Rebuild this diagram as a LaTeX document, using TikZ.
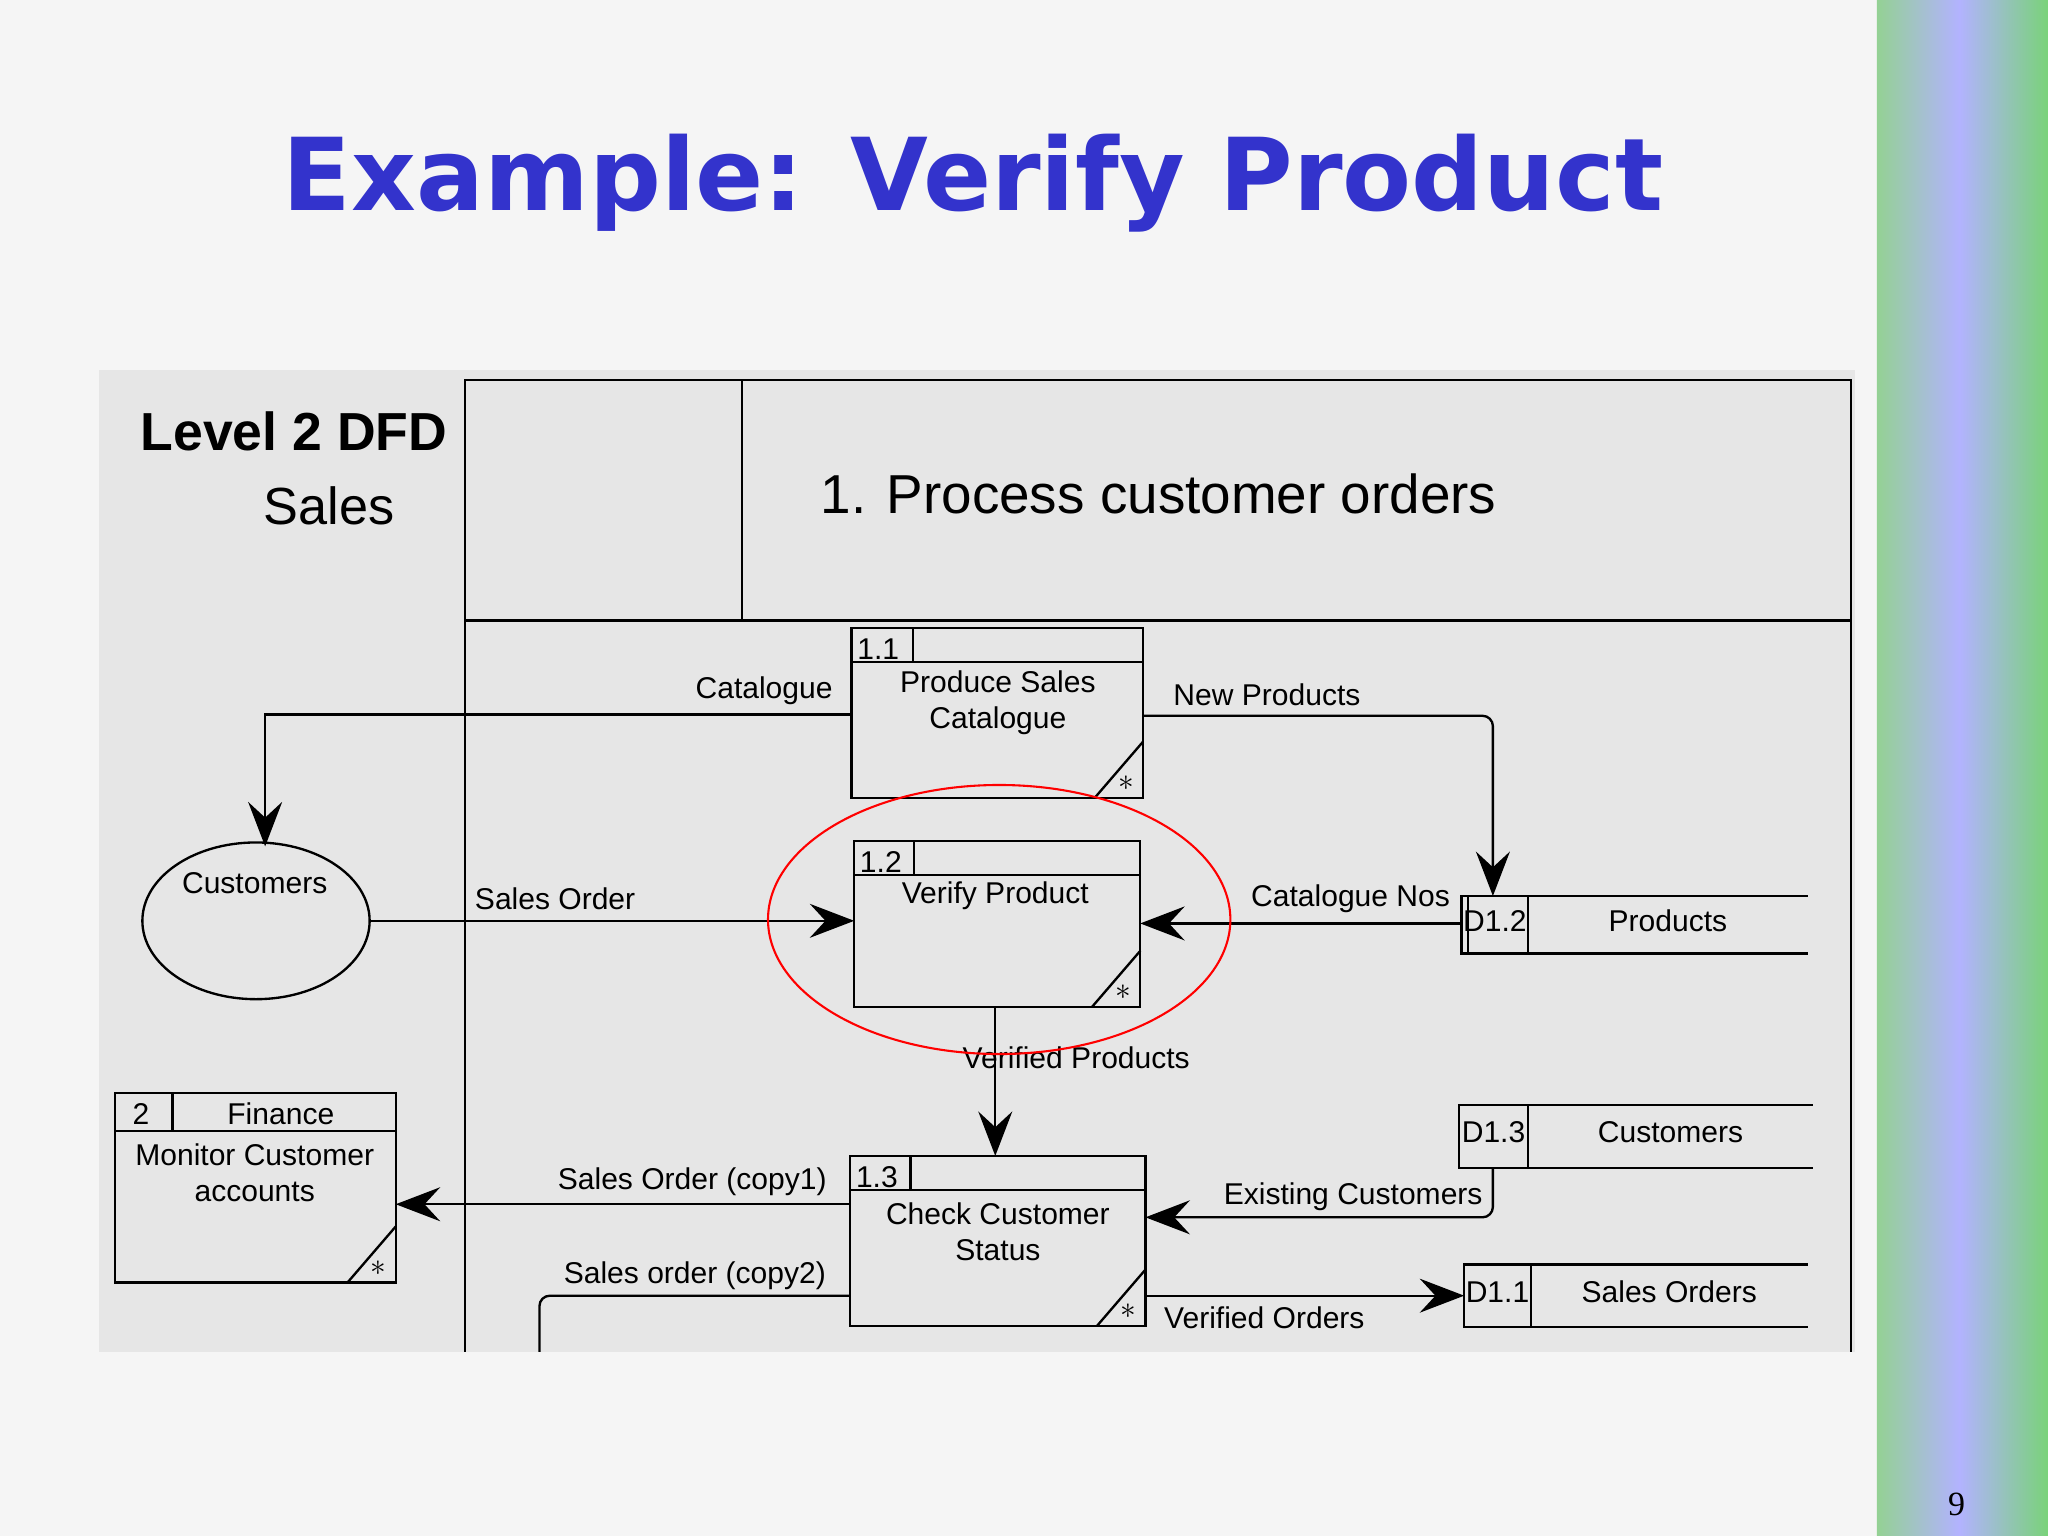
\documentclass[tikz,border=0pt]{standalone}
\usepackage{fontspec}
\setmainfont{Liberation Sans}
\newfontfamily\titlefont{DejaVu Sans}
\newfontfamily\serifnum{Liberation Serif}
\usetikzlibrary{arrows.meta,shapes.geometric}
\definecolor{titleblue}{HTML}{3333CC}
\definecolor{panel}{HTML}{E6E6E6}
\begin{document}
\begin{tikzpicture}[x=0.5pt,y=-0.5pt,
  ln/.style={draw=black,line width=0.9pt},
  fl/.style={ln,-{Stealth[length=17pt,width=13pt,inset=6pt]}},
  lbl/.style={font=\fontsize{11.5}{13}\selectfont,inner sep=0pt},
  ptext/.style={font=\fontsize{11.5}{14}\selectfont,align=center,inner sep=0pt}]
\useasboundingbox (0,0) rectangle (1568,1176);
\fill[white!96!black] (0,0) rectangle (1437,1176);
\shade[left color=green!40!gray!60, right color=blue!30!white] (1437,0) rectangle (1500,1176);
\shade[left color=blue!30!white, right color=green!50!gray!70] (1500,0) rectangle (1568,1176);
\node[font=\titlefont\bfseries\fontsize{38.5}{44}\selectfont,text=titleblue] (title) at (745,140) {Example: Verify Product};
\node[font=\serifnum\fontsize{13}{15}\selectfont] (pg) at (1498,1152) {9};
\fill[panel] (76,283) rectangle (1420,1035);
\draw[ln] (356,1035) -- (356,291) -- (1417,291) -- (1417,1035);
\draw[ln] (356,475) -- (1417,475);
\draw[ln] (568,291) -- (568,475);
\node[font=\bfseries\fontsize{20.5}{22}\selectfont] (lv) at (225,330) {Level 2 DFD};
\node[font=\fontsize{20}{22}\selectfont] (sl) at (252,387) {Sales};
\node[font=\fontsize{21}{24}\selectfont] (pco) at (887,378) {1. Process customer orders};
\newcommand{\proc}[8]{%
  \draw[ln] (#2,#3) rectangle (#4,#5);
  \draw[ln] (#2,#6) -- (#4,#6);
  \draw[ln] (#7,#3) -- (#7,#6);
  \node[lbl,anchor=base west] at (#2+4,#6-2) {#8};
}
\newcommand{\corner}[2]{\draw[ln] (#1-37,#2) -- (#1,#2-43); \node[font=\bfseries\fontsize{12}{12}\selectfont,inner sep=0pt] at (#1-13,#2-11) {$\ast$};}
\proc{p11}{652}{481}{875}{611}{507}{699}{1.1}
\corner{875}{611}
\node[ptext] (t11) at (764,538) {Produce Sales\\Catalogue};
\proc{p12}{654}{644}{873}{771}{670}{700}{1.2}
\corner{873}{771}
\node[ptext] (t12) at (762,686) {Verify Product};
\proc{p13}{651}{885}{877}{1015}{911}{697}{1.3}
\corner{877}{1015}
\node[ptext] (t13) at (764,943) {Check Customer\\Status};
\draw[ln] (88,837) rectangle (303,982);
\draw[ln] (88,866) -- (303,866);
\draw[ln] (132,837) -- (132,866);
\node[lbl] (f2) at (108,853) {2};
\node[lbl] (fin) at (215,853) {Finance};
\node[ptext] (mon) at (195,898) {Monitor Customer\\accounts};
\corner{303}{982}
\node[ellipse,ln,minimum width=87pt,minimum height=60pt,inner sep=0pt] (cust) at (196,705) {};
\node[lbl] (ct) at (195,676) {Customers};
\newcommand{\store}[7]{%
  \draw[ln] (#3,#2) -- (#1,#2) -- (#1,#4) -- (#3,#4);
  \draw[ln] (#5,#2) -- (#5,#4);
  \node[lbl] at ({(#1+#5)/2},{(#2+#4)/2-3}) {#6};
  \node[lbl] at ({(#5+#3)/2},{(#2+#4)/2-3}) {#7};
}
\store{1119}{686}{1384}{730}{1170}{D1.2}{Products}
\draw[ln] (1124,686) -- (1124,730);
\store{1117}{846}{1388}{894}{1170}{D1.3}{Customers}
\store{1121}{968}{1384}{1016}{1172}{D1.1}{Sales Orders}
\coordinate (c1) at (652,547); \coordinate (c2) at (203,547); \coordinate (c3) at (203,648);
\draw[fl] (c1) -- (c2) -- (c3);
\node[lbl] (l1) at (585,529) {Catalogue};
\coordinate (n1) at (875,548); \coordinate (n2) at (1143,548); \coordinate (n3) at (1143,686);
\draw[fl,rounded corners=4pt] (n1) -- (n2) -- (n3);
\node[lbl] (l2) at (970,532) {New Products};
\draw[fl] (cust.east) -- (654,705) coordinate (s2);
\node[lbl] (l3) at (425,688) {Sales Order};
\coordinate (k1) at (1119,707); \coordinate (k2) at (873,707);
\draw[fl] (k1) -- (k2);
\node[lbl] (l4) at (1034,688) {Catalogue Nos};
\coordinate (v1) at (762,771); \coordinate (v2) at (762,885);
\draw[fl] (v1) -- (v2);
\node[lbl] (l5) at (824,810) {Verified Products};
\coordinate (a1) at (651,922); \coordinate (a2) at (303,922);
\draw[fl] (a1) -- (a2);
\node[lbl] (l6) at (530,905) {Sales Order (copy1)};
\coordinate (e1) at (1143,894); \coordinate (e2) at (1143,932); \coordinate (e3) at (877,932);
\draw[fl,rounded corners=4pt] (e1) -- (e2) -- (e3);
\node[lbl] (l7) at (1036,916) {Existing Customers};
\coordinate (b1) at (651,992); \coordinate (b2) at (413,992); \coordinate (b3) at (413,1035);
\draw[ln,rounded corners=4pt] (b1) -- (b2) -- (b3);
\node[lbl] (l8) at (532,977) {Sales order (copy2)};
\coordinate (o1) at (877,992); \coordinate (o2) at (1121,992);
\draw[fl] (o1) -- (o2);
\node[lbl] (l9) at (968,1009) {Verified Orders};
\node[ellipse,draw=red,line width=0.8pt,minimum width=177pt,minimum height=103pt] (hl) at (765,704) {};
\end{tikzpicture}
\end{document}
